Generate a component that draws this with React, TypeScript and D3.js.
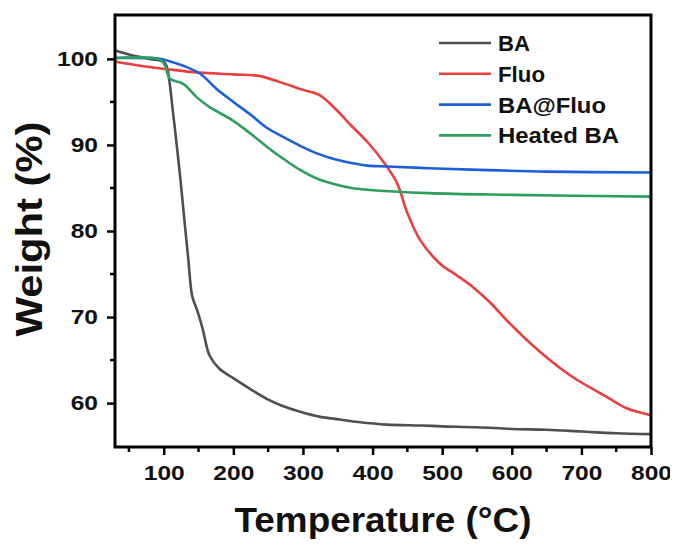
import React, { useEffect, useRef } from "react";
import * as d3 from "d3";

// TGA curves
const baTemp = [30, 50, 80, 99, 104, 108, 113, 118, 124, 130, 135, 141, 148, 156, 166, 180, 200, 225, 248, 270, 296, 325, 353, 380, 420, 470, 500, 550, 600, 650, 700, 750, 800];
const baWeight = [101.0, 100.5, 100.0, 99.7, 99.2, 97.5, 94.0, 90.5, 86.0, 81.0, 77.0, 72.4, 70.8, 68.6, 65.5, 64.0, 62.9, 61.6, 60.5, 59.7, 59.0, 58.4, 58.1, 57.8, 57.5, 57.4, 57.3, 57.2, 57.0, 56.9, 56.7, 56.5, 56.4];

const fluoTemp = [30, 66, 105, 152, 200, 238, 267, 300, 324, 349, 370, 392, 415, 435, 450, 468, 497, 520, 544, 570, 593, 640, 688, 737, 765, 800];
const fluoWeight = [99.7, 99.2, 98.8, 98.4, 98.2, 98.0, 97.3, 96.4, 95.8, 94.0, 92.2, 90.4, 88.1, 85.6, 82.1, 79.0, 76.2, 74.9, 73.5, 71.6, 69.6, 66.0, 63.0, 60.7, 59.4, 58.6];

const baFluoTemp = [30, 95, 109, 128, 152, 176, 200, 225, 248, 270, 296, 324, 343, 370, 392, 421, 480, 554, 650, 800];
const baFluoWeight = [100.1, 100.0, 99.7, 99.2, 98.3, 96.5, 95.0, 93.5, 92.0, 91.0, 89.9, 88.9, 88.4, 87.9, 87.6, 87.5, 87.3, 87.1, 86.9, 86.8];

const heatedTemp = [30, 95, 102, 109, 128, 148, 166, 200, 225, 248, 277, 296, 320, 343, 370, 392, 480, 600, 800];
const heatedWeight = [100.1, 99.9, 99.2, 97.7, 97.1, 95.5, 94.4, 92.8, 91.3, 89.8, 88.1, 87.1, 86.1, 85.5, 85.0, 84.8, 84.4, 84.2, 84.0];

const seriesNames = ["BA", "Fluo", "BA@Fluo", "Heated BA"];
const seriesColors = ["#4f4f4f", "#e8403f", "#1c5fd8", "#2e9e5c"];

const xTicks = [100, 200, 300, 400, 500, 600, 700, 800];
const xMinor = [50, 150, 250, 350, 450, 550, 650, 750];
const yTicks = [60, 70, 80, 90, 100];
const yMinor = [65, 75, 85, 95];

export default function App() {
  const ref = useRef<SVGSVGElement>(null);

  useEffect(() => {
    const svg = d3.select(ref.current);
    svg.selectAll("*").remove();

    const width = 678;
    const height = 544;
    const margin = { top: 15, right: 27, bottom: 97, left: 115 };
    const font = "'Liberation Sans', Arial, sans-serif";

    const x = d3.scaleLinear().domain([30, 800]).range([margin.left, width - margin.right]);
    const y = d3.scaleLinear().domain([54.9, 105.1]).range([height - margin.bottom, margin.top]);

    const series = [
      { t: baTemp, w: baWeight },
      { t: fluoTemp, w: fluoWeight },
      { t: baFluoTemp, w: baFluoWeight },
      { t: heatedTemp, w: heatedWeight },
    ];

    const line = d3
      .line<[number, number]>()
      .x((d) => x(d[0]))
      .y((d) => y(d[1]))
      .curve(d3.curveCatmullRom.alpha(0.5));

    series.forEach((s, i) => {
      svg
        .append("path")
        .datum(s.t.map((t, j) => [t, s.w[j]] as [number, number]))
        .attr("fill", "none")
        .attr("stroke", seriesColors[i])
        .attr("stroke-width", 2.6)
        .attr("stroke-linejoin", "round")
        .attr("d", line);
    });

    const digitW = 0.556 * 21 * 1.17;

    // x axis
    const gx = svg.append("g").attr("transform", `translate(0,${height - margin.bottom})`);
    gx.call(d3.axisBottom(x).tickValues(xTicks).tickSize(8).tickPadding(10).tickSizeOuter(0));
    gx.append("g").selectAll("line").data(xMinor).join("line")
      .attr("x1", (d) => x(d)).attr("x2", (d) => x(d))
      .attr("y1", 0).attr("y2", 5).attr("stroke", "#000").attr("stroke-width", 2.5);

    // y axis
    const gy = svg.append("g").attr("transform", `translate(${margin.left},0)`);
    gy.call(d3.axisLeft(y).tickValues(yTicks).tickSize(8).tickPadding(9).tickSizeOuter(0));
    gy.append("g").selectAll("line").data(yMinor).join("line")
      .attr("y1", (d) => y(d)).attr("y2", (d) => y(d))
      .attr("x1", 0).attr("x2", -5).attr("stroke", "#000").attr("stroke-width", 2.5);

    [gx, gy].forEach((g) => {
      g.select(".domain").remove();
      g.selectAll(".tick line").attr("stroke-width", 2.5);
      g.selectAll<SVGTextElement, number>(".tick text")
        .attr("font-family", font)
        .attr("font-weight", "bold")
        .attr("font-size", 21)
        .attr("fill", "#111")
        .attr("textLength", (d) => String(d).length * digitW)
        .attr("lengthAdjust", "spacingAndGlyphs");
    });

    // frame
    svg
      .append("rect")
      .attr("x", margin.left)
      .attr("y", margin.top)
      .attr("width", width - margin.left - margin.right)
      .attr("height", height - margin.top - margin.bottom)
      .attr("fill", "none")
      .attr("stroke", "#000")
      .attr("stroke-width", 3);

    // axis titles
    svg
      .append("text")
      .attr("x", 383)
      .attr("y", 532)
      .attr("text-anchor", "middle")
      .attr("font-family", font)
      .attr("font-weight", "bold")
      .attr("font-size", 35)
      .attr("textLength", 297)
      .attr("lengthAdjust", "spacingAndGlyphs")
      .attr("fill", "#111")
      .text("Temperature (°C)");

    svg
      .append("text")
      .attr("transform", "translate(42,229) rotate(-90)")
      .attr("text-anchor", "middle")
      .attr("font-family", font)
      .attr("font-weight", "bold")
      .attr("font-size", 37)
      .attr("textLength", 215)
      .attr("lengthAdjust", "spacingAndGlyphs")
      .attr("fill", "#111")
      .text("Weight (%)");

    // legend
    const legendLens = [32, 47, 108, 121];
    const lg = svg.append("g");
    seriesNames.forEach((name, i) => {
      const cy = 43 + i * 30.8;
      lg.append("line")
        .attr("x1", 439).attr("x2", 491)
        .attr("y1", cy).attr("y2", cy)
        .attr("stroke", seriesColors[i])
        .attr("stroke-width", 2.6);
      lg.append("text")
        .attr("x", 498)
        .attr("y", cy + 8)
        .attr("font-family", font)
        .attr("font-weight", "bold")
        .attr("font-size", 22)
        .attr("textLength", legendLens[i])
        .attr("lengthAdjust", "spacingAndGlyphs")
        .attr("fill", "#111")
        .text(name);
    });
  }, []);

  return <svg ref={ref} width={678} height={544} style={{ display: "block", margin: "-8px 0 0 -8px" }} />;
}
